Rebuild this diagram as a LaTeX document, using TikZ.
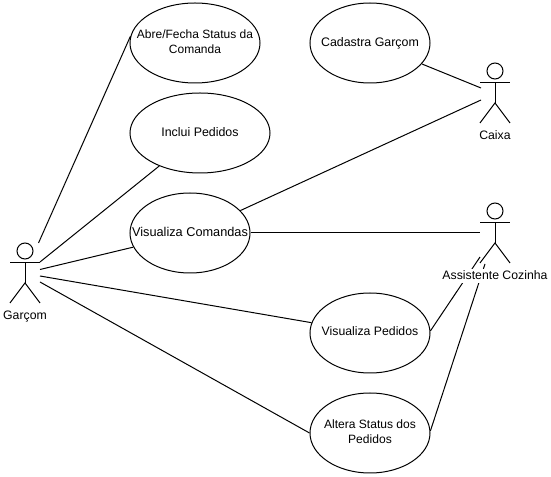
\documentclass[tikz,border=0pt]{standalone}
\usepackage{fontspec}
\setmainfont{Liberation Sans}
\usetikzlibrary{shapes.geometric}
\tikzset{
  usecase/.style={ellipse,draw=black,line width=0.75pt,inner sep=0pt,minimum width=#1*0.75pt,minimum height=60pt},
  usecase/.default=120,
  casetext/.style={inner sep=0pt,align=center,font=\fontsize{#1}{11.25}\selectfont},
  actorhead/.style={circle,draw=black,line width=0.75pt,inner sep=0pt,minimum size=12pt},
  actorlabel/.style={fill=white,anchor=base,inner xsep=0.75pt,inner ysep=0pt,text height=8pt,text depth=3pt,font=\fontsize{9.2}{11}\selectfont},
  link/.style={draw=black,line width=0.75pt}
}
\newcommand{\actorfig}[3]{%
  \node[actorhead] (#1h) at (#2,#3-22) {};
  \draw[link] (#2,#3-10) coordinate (#1n) -- (#2,#3+10) coordinate (#1c);
  \draw[link] (#2-15,#3-10) -- (#2+15,#3-10);
  \draw[link] (#2-15,#3+30) -- (#1c) -- (#2+15,#3+30);
}
\begin{document}
\begin{tikzpicture}[x=0.75pt,y=-0.75pt]
\useasboundingbox[fill=white] (0,0) rectangle (551,477);
\node[usecase=130] (abre) at (195,43) {};
\node[usecase=140] (inclui) at (200,133) {};
\node[usecase=120] (vcom) at (190,233) {};
\node[usecase=120] (cad) at (370,43) {};
\node[usecase=120] (vped) at (370,333) {};
\node[usecase=120] (alt) at (370,433) {};
\node[casetext=9.0,yshift=0.75pt] (abret) at (abre) {Abre/Fecha Status da\\Comanda};
\node[casetext=9.3,yshift=1.05pt] (incluit) at (inclui) {Inclui Pedidos};
\node[casetext=9.55,yshift=1.05pt] (vcomt) at (vcom) {Visualiza Comandas};
\node[casetext=9.3] (cadt) at (cad) {Cadastra Garçom};
\node[casetext=9.2,yshift=1.05pt] (vpedt) at (vped) {Visualiza Pedidos};
\node[casetext=9.05,yshift=0.75pt] (altt) at (alt) {Altera Status dos\\Pedidos};
\actorfig{g}{25}{273}
\actorfig{c}{495}{93}
\actorfig{a}{495}{233}
\coordinate (g1) at (38.5,243);
\coordinate (g2) at (40,262);
\coordinate (g3) at (40,269.5);
\coordinate (g4) at (40,276);
\coordinate (g5) at (40,282);
\coordinate (c1) at (481,88);
\coordinate (c2) at (481,100);
\coordinate (a1) at (480,233);
\coordinate (a2) at (480,257);
\coordinate (a3) at (485,264);
\draw[link] (g1) -- (abre.174);
\draw[link] (g2) -- (inclui.219);
\draw[link] (g3) -- (vcom.194);
\draw[link] (g4) -- (vped.170);
\draw[link] (g5) -- (alt.180);
\draw[link] (cad.-22.7) -- (c1);
\draw[link] (vcom.24) -- (c2);
\draw[link] (vcom.0) -- (a1);
\draw[link] (vped.2) -- (a2);
\draw[link] (alt.2) -- (a3);
\node[actorlabel] (gl) at (25,320) {Garçom};
\node[actorlabel] (cl) at (495,139.5) {Caixa};
\node[actorlabel] (al) at (495,279.5) {Assistente Cozinha};
\end{tikzpicture}
\end{document}
